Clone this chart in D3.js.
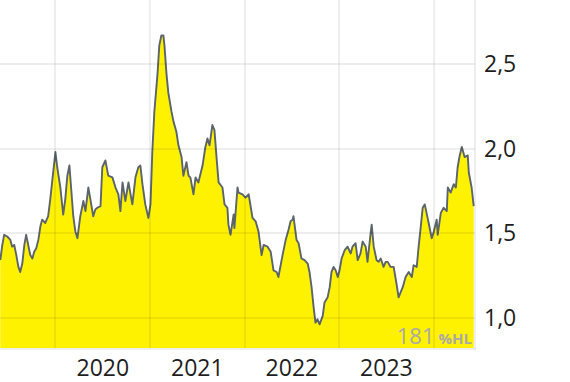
<!DOCTYPE html>
<html lang="de">
<head>
<meta charset="UTF-8" />
<title>Kursverlauf 5 Jahre</title>
<script src="https://d3js.org/d3.v7.min.js"></script>
<style>
  body { margin: 0; background: #fff; font-family: "Open Sans", sans-serif; }
  .axis text { fill: #1e1e1e; font-size: 23px; }
</style>
</head>
<body>
<svg width="570" height="382"></svg>
<script>
const dates = [
  "2019-06-02","2019-06-10","2019-06-17","2019-06-29","2019-07-11","2019-07-18","2019-07-26","2019-08-03","2019-08-11","2019-08-18",
  "2019-08-26","2019-09-03","2019-09-10","2019-09-18","2019-09-26","2019-10-04","2019-10-11","2019-10-19","2019-10-27","2019-11-04",
  "2019-11-11","2019-11-23","2019-12-04","2019-12-12","2019-12-24","2020-01-01","2020-01-08","2020-01-20","2020-01-31","2020-02-08",
  "2020-02-16","2020-02-24","2020-03-02","2020-03-10","2020-03-18","2020-03-26","2020-04-06","2020-04-18","2020-04-26","2020-05-07",
  "2020-05-15","2020-05-26","2020-06-03","2020-06-11","2020-06-23","2020-06-30","2020-07-12","2020-07-23","2020-08-08","2020-08-20",
  "2020-08-31","2020-09-08","2020-09-16","2020-09-27","2020-10-09","2020-10-24","2020-11-05","2020-11-16","2020-11-24","2020-12-02",
  "2020-12-13","2020-12-25","2021-01-02","2021-01-09","2021-01-17","2021-01-29","2021-02-05","2021-02-13","2021-02-21","2021-02-25",
  "2021-03-05","2021-03-12","2021-03-24","2021-04-01","2021-04-12","2021-04-20","2021-05-02","2021-05-09","2021-05-21","2021-05-29",
  "2021-06-05","2021-06-17","2021-06-25","2021-07-06","2021-07-22","2021-08-02","2021-08-10","2021-08-18","2021-08-29","2021-09-06",
  "2021-09-14","2021-09-22","2021-10-07","2021-10-15","2021-10-26","2021-10-30","2021-11-07","2021-11-19","2021-11-22","2021-12-04",
  "2021-12-08","2021-12-23","2022-01-04","2022-01-16","2022-01-31","2022-02-12","2022-02-23","2022-03-07","2022-03-15","2022-03-30",
  "2022-04-11","2022-04-22","2022-05-04","2022-05-11","2022-05-27","2022-06-08","2022-06-19","2022-06-27","2022-07-05","2022-07-08",
  "2022-07-20","2022-07-28","2022-08-08","2022-08-20","2022-09-01","2022-09-08","2022-09-16","2022-09-24","2022-10-01","2022-10-09",
  "2022-10-17","2022-10-29","2022-11-05","2022-11-17","2022-11-25","2022-12-02","2022-12-10","2022-12-18","2022-12-26","2023-01-02",
  "2023-01-10","2023-01-22","2023-02-02","2023-02-14","2023-02-21","2023-03-05","2023-03-13","2023-03-24","2023-04-01","2023-04-13",
  "2023-04-20","2023-05-02","2023-05-06","2023-05-14","2023-05-25","2023-06-02","2023-06-10","2023-06-21","2023-06-29","2023-07-07",
  "2023-07-18","2023-07-30","2023-08-11","2023-08-18","2023-09-03","2023-09-14","2023-09-26","2023-10-08","2023-10-15","2023-10-27",
  "2023-11-04","2023-11-11","2023-11-19","2023-11-27","2023-12-08","2023-12-16","2023-12-24","2024-01-01","2024-01-12","2024-01-16",
  "2024-01-28","2024-02-08","2024-02-20","2024-02-24","2024-03-06","2024-03-18","2024-03-26","2024-04-02","2024-04-10","2024-04-18",
  "2024-04-29","2024-05-11","2024-05-15","2024-05-26","2024-06-03"
];

const prices = [
  1.34,1.43,1.49,1.48,1.46,1.42,1.43,1.37,1.30,1.27,
  1.32,1.43,1.49,1.43,1.37,1.35,1.39,1.41,1.46,1.54,
  1.58,1.56,1.60,1.70,1.87,1.98,1.89,1.77,1.61,1.70,
  1.84,1.90,1.76,1.60,1.51,1.47,1.60,1.69,1.63,1.77,
  1.70,1.60,1.64,1.65,1.66,1.89,1.93,1.84,1.83,1.77,
  1.73,1.63,1.80,1.69,1.80,1.67,1.83,1.89,1.90,1.79,
  1.67,1.59,1.67,1.98,2.22,2.44,2.61,2.67,2.67,2.61,
  2.44,2.33,2.22,2.16,2.10,2.02,1.95,1.84,1.92,1.84,
  1.83,1.73,1.83,1.80,1.90,2.01,2.06,2.02,2.14,2.11,
  1.95,1.80,1.77,1.67,1.65,1.55,1.49,1.61,1.53,1.77,
  1.74,1.73,1.71,1.73,1.59,1.57,1.51,1.37,1.43,1.42,
  1.39,1.28,1.27,1.24,1.37,1.46,1.52,1.57,1.58,1.60,
  1.46,1.44,1.35,1.34,1.32,1.27,1.18,1.06,0.97,0.99,
  0.96,1.01,1.09,1.12,1.18,1.27,1.30,1.28,1.24,1.28,
  1.35,1.40,1.42,1.38,1.42,1.44,1.34,1.38,1.45,1.42,
  1.33,1.50,1.55,1.42,1.34,1.33,1.35,1.30,1.33,1.33,
  1.30,1.30,1.19,1.12,1.18,1.24,1.27,1.24,1.31,1.30,
  1.43,1.53,1.65,1.67,1.59,1.53,1.47,1.51,1.58,1.49,
  1.62,1.65,1.63,1.77,1.74,1.79,1.77,1.89,1.96,2.01,
  1.95,1.96,1.86,1.77,1.66
];

const yTicks = [1.0, 1.5, 2.0, 2.5];
const yearTicks = ["2020-01-01", "2021-01-01", "2022-01-01", "2023-01-01", "2024-01-01"];
const yearLabels = ["2020", "2021", "2022", "2023"];
const hlPercent = "181";

const data = dates.map((d, i) => ({ date: new Date(d), value: prices[i] }));

const svg = d3.select("svg");
const plotW = 475, plotH = 348;

const x = d3.scaleUtc()
  .domain([new Date("2019-06-01"), new Date("2024-06-08")])
  .range([0, plotW]);

const y = d3.scaleLinear()
  .domain([0.82, 2.88])
  .range([plotH, 0]);

const fmt = d3.format(".1f");
const comma = v => fmt(v).replace(".", ",");

// fill + line
svg.append("path")
  .datum(data)
  .attr("fill", "#fff200")
  .attr("d", d3.area().x(d => x(d.date)).y0(plotH).y1(d => y(d.value)));

svg.append("path")
  .datum(data)
  .attr("fill", "none")
  .attr("stroke", "#5b636b")
  .attr("stroke-width", 1.9)
  .attr("stroke-linejoin", "round")
  .attr("d", d3.line().x(d => x(d.date)).y(d => y(d.value)));

// grid on top, semi transparent
const grid = svg.append("g")
  .attr("stroke", "rgba(0,0,0,0.065)")
  .attr("stroke-width", 2);

grid.selectAll(".h")
  .data(yTicks)
  .join("line")
  .attr("x1", 0).attr("x2", plotW)
  .attr("y1", d => Math.round(y(d))).attr("y2", d => Math.round(y(d)));

grid.selectAll(".v")
  .data(yearTicks)
  .join("line")
  .attr("y1", 0).attr("y2", plotH)
  .attr("x1", d => Math.round(x(new Date(d)))).attr("x2", d => Math.round(x(new Date(d))));

grid.append("line")
  .attr("x1", plotW).attr("x2", plotW).attr("y1", 0).attr("y2", plotH + 1);
grid.append("line")
  .attr("x1", 0).attr("x2", plotW + 1).attr("y1", plotH + 1).attr("y2", plotH + 1);

// y axis on the right
svg.append("g")
  .attr("class", "axis")
  .selectAll("text")
  .data(yTicks)
  .join("text")
  .attr("x", 484)
  .attr("y", d => y(d))
  .attr("dy", "0.36em")
  .text(d => comma(d));

// year labels centred mid-year
svg.append("g")
  .attr("class", "axis")
  .selectAll("text")
  .data(yearLabels)
  .join("text")
  .attr("text-anchor", "middle")
  .attr("x", d => x(new Date(d + "-07-02")))
  .attr("y", 376)
  .text(d => d);

// high/low watermark
const wm = svg.append("text")
  .attr("x", 472)
  .attr("y", 344)
  .attr("text-anchor", "end")
  .attr("fill", "#a9a9a9");
wm.append("tspan").attr("font-size", 22).text(hlPercent);
wm.append("tspan").attr("font-size", 15).attr("font-weight", "bold").attr("dx", 4).text("%HL");
</script>
</body>
</html>
